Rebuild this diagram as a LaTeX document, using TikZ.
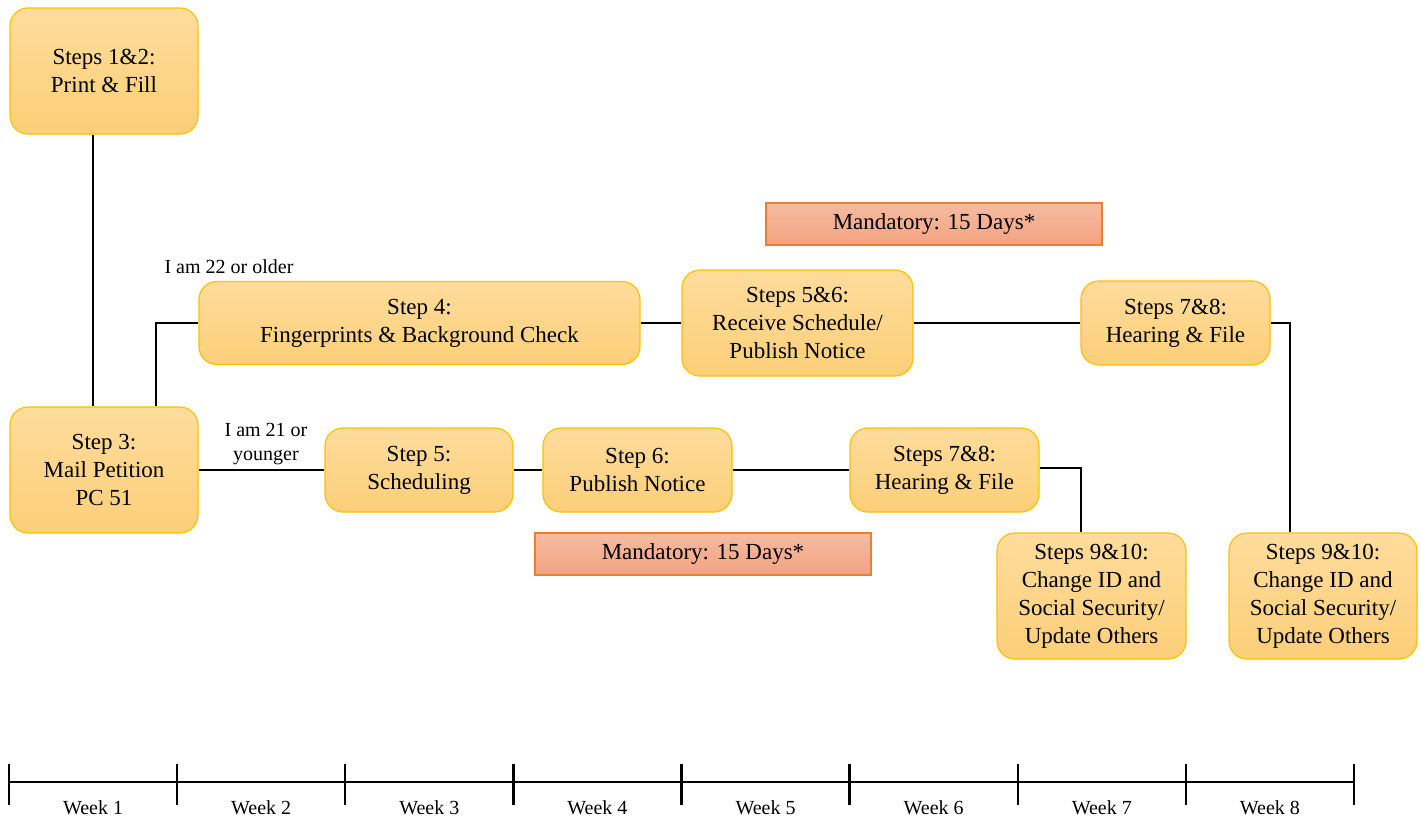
\documentclass[tikz,border=0pt]{standalone}
\usepackage{fontspec}
\setmainfont{Liberation Serif}
\definecolor{boxtop}{HTML}{FDDC9C}
\definecolor{boxbot}{HTML}{FCCF78}
\definecolor{boxline}{HTML}{FFC000}
\definecolor{mandtop}{HTML}{F5BBA0}
\definecolor{mandbot}{HTML}{F3A381}
\definecolor{mandline}{HTML}{ED7D31}
\usetikzlibrary{positioning}

\begin{document}
\begin{tikzpicture}[x=0.5pt,y=-0.5pt,
    stepbox/.style={draw=boxline,line width=0.6pt,top color=boxtop,bottom color=boxbot,rounded corners=9pt,inner sep=0pt,align=center,font=\fontsize{11.5}{14}\selectfont},
    mandbox/.style={draw=mandline,line width=0.6pt,top color=mandtop,bottom color=mandbot,minimum width=168pt,minimum height=21pt,inner sep=0pt,font=\fontsize{11.5}{14}\selectfont},
    link/.style={line width=1.2pt},
    lbl/.style={font=\fontsize{10}{12}\selectfont,align=center,inner sep=0pt}]
        \useasboundingbox (0,0) rectangle (1421,821);
        % left column
        \node[stepbox,minimum width=94pt,minimum height=63pt] (print) at (104,71) {Steps 1\&2:\\Print \& Fill};
        \node[stepbox,minimum width=94pt,minimum height=63pt] (mail) at (104,470) {Step 3:\\Mail Petition\\PC 51};
        % 22 or older
        \node[stepbox,minimum width=220.5pt,minimum height=41.5pt] (fp) at (419.5,323) {Step 4:\\Fingerprints \& Background Check};
        \node[stepbox,minimum width=115.5pt,minimum height=53pt] (rcv) at (797.5,323) {Steps 5\&6:\\Receive Schedule/\\Publish Notice};
        \node[stepbox,minimum width=94.5pt,minimum height=42pt] (hearA) at (1175.5,323) {Steps 7\&8:\\Hearing \& File};
        \node[stepbox,minimum width=94pt,minimum height=63pt] (updA) at (1323,596) {Steps 9\&10:\\Change ID and\\Social Security/\\Update Others};
        \node[mandbox] (mandA) at (934,224) {Mandatory: 15 Days*};
        % 21 or younger
        \node[stepbox,minimum width=94pt,minimum height=42pt] (sched) at (419,470) {Step 5:\\Scheduling};
        \node[stepbox,minimum width=94.5pt,minimum height=42pt] (notice) at (637.5,470) {Step 6:\\Publish Notice};
        \node[stepbox,minimum width=94.5pt,minimum height=42pt] (hearB) at (944.5,470) {Steps 7\&8:\\Hearing \& File};
        \node[stepbox,minimum width=94.5pt,minimum height=63pt] (updB) at (1091.5,596) {Steps 9\&10:\\Change ID and\\Social Security/\\Update Others};
        \node[mandbox] (mandB) at (703,554) {Mandatory: 15 Days*};
        % branch labels
        \node[lbl] (older) at (229,267) {I am 22 or older};
        \node[lbl] (younger) at (266,444) {I am 21 or\\younger};

        \draw[link] ([xshift=-5.5pt]print.south) -- ([xshift=-5.5pt]mail.north);
        \draw[link] ([xshift=26pt]mail.north) |- (fp.west);
        \draw[link] (fp.east) -- (rcv.west);
        \draw[link] (rcv.east) -- (hearA.west);
        \draw[link] (hearA.east) -| ([xshift=-16.5pt]updA.north);
        \draw[link] (mail.east) -- (sched.west);
        \draw[link] (sched.east) -- (notice.west);
        \draw[link] (notice.east) -- (hearB.west);
        \draw[link] ([yshift=1pt]hearB.east) -| ([xshift=-5.25pt]updB.north);

        % timeline
        \draw[link] (9,782) -- (1354,782);
        \foreach \i in {0,...,8}
          \draw[link] ({9+168.125*\i},764) -- ++(0,41);
        \foreach \i in {1,...,8}
          \node[lbl] (week\i) at ({9+168.125*(\i-0.5)},808) {Week \i};
\end{tikzpicture}
\end{document}
